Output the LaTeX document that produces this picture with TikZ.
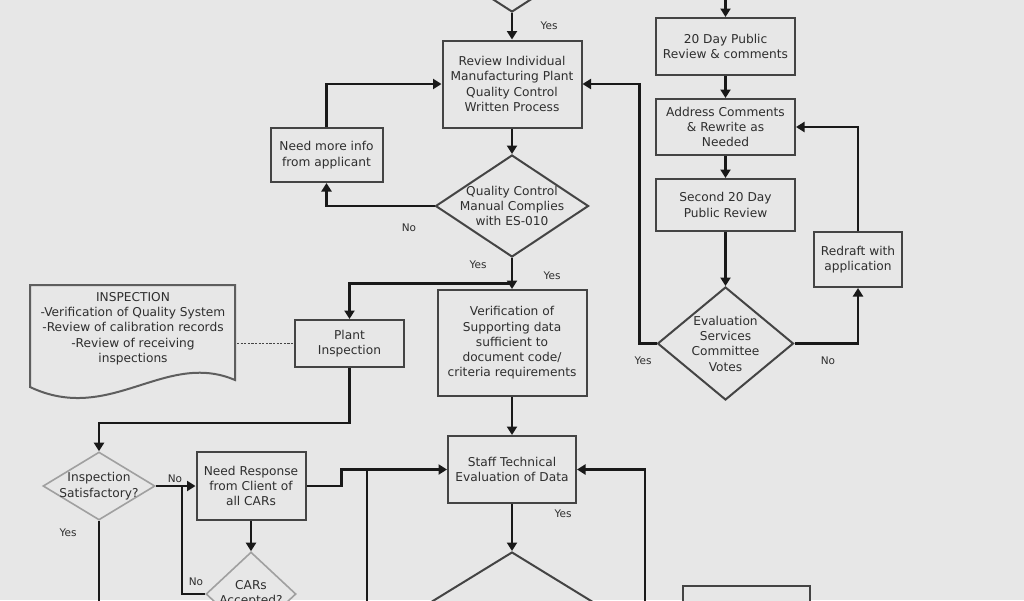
\documentclass[tikz,border=0pt]{standalone}
\usepackage{fontspec}
\setmainfont{DejaVu Sans}
\usetikzlibrary{shapes.geometric,arrows.meta}
\definecolor{bgc}{HTML}{E7E7E7}
\definecolor{txtc}{HTML}{2E2E2E}
\definecolor{boxc}{HTML}{444444}
\definecolor{lightc}{HTML}{A0A0A0}
\definecolor{docc}{HTML}{5E5E5E}
\begin{document}
\begin{tikzpicture}[x=1pt,y=-1pt,
  every node/.style={text=txtc,font=\fontsize{12.2}{15.3}\selectfont},
  box/.style={draw=boxc,line width=2pt,fill=bgc,rectangle,inner sep=0pt,align=center},
  dia/.style={draw=boxc,line width=2pt,fill=bgc,diamond,inner sep=0pt},
  ldia/.style={draw=lightc,line width=1.6pt,fill=bgc,diamond,inner sep=0pt},
  txt/.style={align=center,inner sep=0pt},
  lab/.style={font=\fontsize{10.5}{12}\selectfont,inner sep=0pt},
  conn/.style={draw=black!90,line width=2.5pt},
  arr/.style={conn,-{Triangle[width=10pt,length=8.5pt]}},
  dotline/.style={draw=boxc,line width=1.8pt,dash pattern=on 2.2pt off 1.4pt},
]
\useasboundingbox (0,0) rectangle (1024,600);
\fill[bgc] (0,0) rectangle (1024,600);
\clip (0,0) rectangle (1024,600);

% central column
\node[dia,minimum width=170pt,minimum height=110pt] (topd) at (512,-43) {};
\node[box,minimum width=139pt,minimum height=87pt] (review) at (512,84) {Review Individual\\Manufacturing Plant\\Quality Control\\Written Process};
\node[dia,minimum width=153pt,minimum height=102pt] (qc) at (512,206) {};
\node[txt] (qct) at (qc) {Quality Control\\Manual Complies\\with ES-010};
\node[box,minimum width=112pt,minimum height=54pt] (info) at (326.5,155) {Need more info\\from applicant};
\node[box,minimum width=109pt,minimum height=47pt] (plant) at (349.5,343.5) {Plant\\Inspection};
\node[box,minimum width=149pt,minimum height=106pt] (verif) at (512,343) {Verification of\\Supporting data\\sufficient to\\document code/\\criteria requirements};
\node[box,minimum width=128pt,minimum height=67pt] (staff) at (512,469.5) {Staff Technical\\Evaluation of Data};
\node[dia,minimum width=195pt,minimum height=120pt] (bigd) at (512,612) {};
\node[box,minimum width=127pt,minimum height=60pt] (botbox) at (746.5,616) {};

% left side
\draw[docc,line width=2pt,fill=bgc] (30,285) -- (235,285) -- (235,380) .. controls (165,350) and (110,425) .. (30,387) -- cycle;
\node[txt] (insptxt) at (133,328.5) {INSPECTION\\-Verification of Quality System\\-Review of calibration records\\-Review of receiving\\inspections};
\coordinate (docR) at (237,343.5);
\node[ldia,minimum width=112pt,minimum height=68pt] (isat) at (99,486) {};
\node[txt] (isatt) at (isat) {Inspection\\Satisfactory?};
\node[box,minimum width=109pt,minimum height=68pt] (need) at (251,486) {Need Response\\from Client of\\all CARs};
\node[ldia,minimum width=90pt,minimum height=84pt] (cars) at (251,594) {};
\node[txt] (carst) at (cars) {CARs\\Accepted?};

% right column
\node[box,minimum width=139pt,minimum height=57pt] (pub) at (725.5,46.5) {20 Day Public\\Review \& comments};
\node[box,minimum width=139pt,minimum height=56pt] (addr) at (725.5,127) {Address Comments\\\& Rewrite as\\Needed};
\node[box,minimum width=139pt,minimum height=52pt] (second) at (725.5,205) {Second 20 Day\\Public Review};
\node[dia,minimum width=136pt,minimum height=113pt] (esc) at (725.5,343.5) {};
\node[txt] (esct) at (esc) {Evaluation\\Services\\Committee\\Votes};
\node[box,minimum width=88pt,minimum height=55pt] (redraft) at (858,259.5) {Redraft with\\application};

% connectors
\coordinate (topR) at (725.5,-2);
\draw[arr] (topR) -- (pub.north);
\draw[arr] (pub.south) -- (addr.north);
\draw[arr] (addr.south) -- (second.north);
\draw[arr] (second.south) -- (esc.north);
\draw[arr] (esc.east) -| (redraft.south);
\draw[arr] (redraft.north) |- (addr.east);
\draw[arr] (esc.west) -- ++(-17,0) |- (review.east);

\draw[arr] (topd.south) -- (review.north);
\draw[arr] (review.south) -- (qc.north);
\draw[arr] (qc.west) -| (info.south);
\draw[arr] (info.north) |- (review.west);
\coordinate (j1) at (512,283.5);
\draw[arr] (qc.south) -- (verif.north);
\draw[arr] (j1) -| (plant.north);
\draw[arr] (verif.south) -- (staff.north);
\draw[arr] (staff.south) -- (bigd.north);
\draw[dotline] (docR) -- (plant.west);
\draw[arr] (plant.south) -- ++(0,55) -| (isat.north);
\coordinate (isatEnd) at (99,606);
\draw[conn] (isat.south) -- (isatEnd);
\draw[arr] (isat.east) -- (need.west);
\draw[arr] (need.south) -- (cars.north);
\coordinate (j3) at (182,486);
\draw[conn] (cars.west) -| (j3);
\draw[arr] (need.east) -- ++(35,0) |- (staff.west);
\coordinate (j2) at (367,469.5);
\coordinate (j2e) at (367,606);
\draw[conn] (j2) -- (j2e);
\coordinate (j4) at (645,606);
\draw[arr] (j4) |- (staff.east);

% labels
\node[lab] (l1) at (549,26) {Yes};
\node[lab] (l2) at (409,228) {No};
\node[lab] (l3) at (478,265) {Yes};
\node[lab] (l4) at (552,276) {Yes};
\node[lab] (l5) at (643,361) {Yes};
\node[lab] (l6) at (828,361) {No};
\node[lab] (l7) at (563,514) {Yes};
\node[lab] (l8) at (175,479) {No};
\node[lab] (l9) at (68,533) {Yes};
\node[lab] (l10) at (196,582) {No};
\end{tikzpicture}
\end{document}
